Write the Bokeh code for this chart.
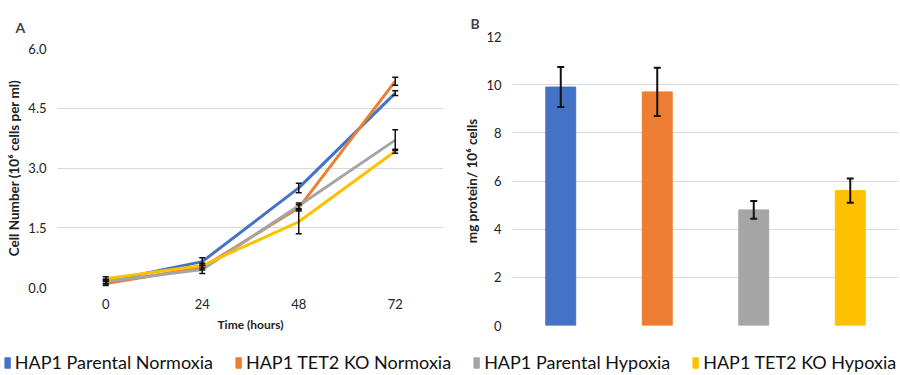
from bokeh.plotting import figure
from bokeh.models import (ColumnDataSource, Whisker, Legend, LegendItem, FixedTicker,
                          NumeralTickFormatter, Range1d, FactorRange, TeeHead)
from bokeh.layouts import column, row
from bokeh.embed import file_html
from bokeh.resources import INLINE

FONT = "Lato"

hours = [0, 24, 48, 72]
series_names = ["HAP1 Parental Normoxia", "HAP1 TET2 KO Normoxia",
                "HAP1 Parental Hypoxia", "HAP1 TET2 KO Hypoxia"]
colors = ["#4472C4", "#ED7D31", "#A5A5A5", "#FFC000"]

# Panel A: cell number (10^6 cells per ml)
parental_norm = [0.15, 0.65, 2.50, 4.88]
parental_norm_err = [0.05, 0.10, 0.12, 0.06]
tet2_norm = [0.10, 0.50, 2.00, 5.18]
tet2_norm_err = [0.05, 0.06, 0.08, 0.10]
parental_hyp = [0.15, 0.45, 2.05, 3.70]
parental_hyp_err = [0.06, 0.10, 0.07, 0.26]
tet2_hyp = [0.22, 0.55, 1.65, 3.42]
tet2_hyp_err = [0.05, 0.06, 0.30, 0.05]

yticks_a = [0.0, 1.5, 3.0, 4.5, 6.0]

# Panel B: mg protein / 10^6 cells
protein = [9.9, 9.7, 4.8, 5.6]
protein_err = [0.83, 1.0, 0.37, 0.5]
yticks_b = [0, 2, 4, 6, 8, 10, 12]


def style(p):
    p.outline_line_color = None
    p.xgrid.grid_line_color = None
    p.ygrid.grid_line_color = "#D9D9D9"
    p.ygrid.grid_line_width = 1
    for ax in p.axis:
        ax.axis_line_color = None
        ax.major_tick_line_color = None
        ax.minor_tick_line_color = None
        ax.major_label_text_font = FONT
        ax.major_label_text_font_size = "13px"
        ax.major_label_text_color = "#222222"
        ax.axis_label_text_font = FONT
        ax.axis_label_text_font_style = "bold"
        ax.axis_label_text_font_size = "12px"
        ax.axis_label_text_color = "#222222"
    p.yaxis.axis_label_text_font_size = "13.5px"
    p.yaxis.axis_label_standoff = 3
    p.title.text_font = FONT
    p.title.text_font_size = "14px"
    p.title.text_font_style = "bold"
    p.title.offset = -42


# ---------- Panel A ----------
pA = figure(width=450, height=337, output_backend="svg", toolbar_location=None,
            x_range=Range1d(-12, 84), y_range=Range1d(0, 6), title="A",
            min_border_left=57, min_border_right=7, min_border_top=48, min_border_bottom=50)
pA.xaxis.ticker = FixedTicker(ticks=hours)
pA.yaxis.ticker = FixedTicker(ticks=yticks_a)
pA.yaxis.formatter = NumeralTickFormatter(format="0.0")
pA.xaxis.axis_label = "Time (hours)"
pA.yaxis.axis_label = "Cell Number (10\u2076 cells per ml)"
style(pA)
pA.title.standoff = 25

a_series = [(parental_norm, parental_norm_err), (tet2_norm, tet2_norm_err),
            (parental_hyp, parental_hyp_err), (tet2_hyp, tet2_hyp_err)]
for (vals, errs), c in zip(a_series, colors):
    src = ColumnDataSource(dict(x=hours, y=vals,
                                upper=[v + e for v, e in zip(vals, errs)],
                                lower=[v - e for v, e in zip(vals, errs)]))
    pA.line("x", "y", source=src, line_color=c, line_width=3)
    pA.add_layout(Whisker(base="x", upper="upper", lower="lower", source=src, level="annotation",
                          line_color="#111111", line_width=1.5,
                          upper_head=TeeHead(size=6, line_width=1.5, line_color="#111111"),
                          lower_head=TeeHead(size=6, line_width=1.5, line_color="#111111")))

# ---------- Panel B ----------
pB = figure(width=450, height=337, output_backend="svg", toolbar_location=None,
            x_range=FactorRange(*series_names, range_padding=0), y_range=Range1d(0, 12), title="B",
            min_border_left=62, min_border_right=2, min_border_top=36, min_border_bottom=12)
pB.yaxis.ticker = FixedTicker(ticks=yticks_b)
pB.yaxis.axis_label = "mg protein/ 10\u2076 cells"
pB.xaxis.visible = False
style(pB)

srcB = ColumnDataSource(dict(x=series_names, top=protein, color=colors,
                             upper=[v + e for v, e in zip(protein, protein_err)],
                             lower=[v - e for v, e in zip(protein, protein_err)]))
pB.vbar(x="x", top="top", width=0.31, color="color", source=srcB)
pB.add_layout(Whisker(base="x", upper="upper", lower="lower", source=srcB, level="annotation",
                      line_color="#111111", line_width=2,
                      upper_head=TeeHead(size=7, line_width=2, line_color="#111111"),
                      lower_head=TeeHead(size=7, line_width=2, line_color="#111111")))

# ---------- Legend ----------
pL = figure(width=900, height=38, output_backend="svg", toolbar_location=None,
            x_range=Range1d(0, 1), y_range=Range1d(0, 1),
            min_border_top=12, min_border_bottom=0, min_border_left=0, min_border_right=0)
pL.axis.visible = False
pL.grid.visible = False
pL.outline_line_color = None
items = []
for name, c in zip(series_names, colors):
    # zero-height bar: only its legend swatch is visible
    r = pL.vbar(x=[0.5], top=[0], bottom=[0], width=0, color=c)
    items.append(LegendItem(label=name, renderers=[r]))
leg = Legend(items=items, orientation="horizontal", location="center",
             label_text_font=FONT, label_text_font_size="18px", label_text_color="#111111",
             glyph_width=7, glyph_height=13, label_standoff=4, spacing=22,
             border_line_color=None, background_fill_alpha=0, padding=0, margin=0)
pL.add_layout(leg, "center")

layout = column(row(column(pA), column(pB)), pL)
open("out.html", "w").write(file_html(layout, INLINE))
